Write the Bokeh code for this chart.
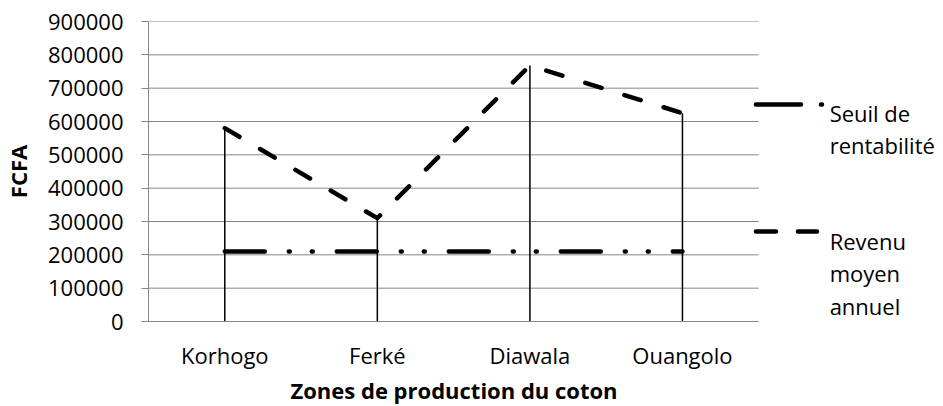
from bokeh.plotting import figure
from bokeh.models import Range1d, FixedTicker, BasicTickFormatter, Title
from bokeh.core.properties import value
from bokeh.embed import file_html
from bokeh.resources import INLINE

# ---- data ----
zones = ["Korhogo", "Ferké", "Diawala", "Ouangolo"]
revenu = [580000, 310000, 768000, 625000]        # Revenu moyen annuel
seuil = [210000, 210000, 210000, 210000]         # Seuil de rentabilité
y_ticks = [0, 100000, 200000, 300000, 400000, 500000, 600000, 700000, 800000, 900000]
legend_seuil = ["Seuil de", "rentabilité"]
legend_revenu = ["Revenu", "moyen", "annuel"]

FONT = "Open Sans"
GRAY = "#868686"

# ---- layout (pixels) ----
W, H = 943, 406
LEFT, TOP, BOTTOM = 147, 21, 85
FRAME_W = W - LEFT
FRAME_H = H - TOP - BOTTOM
CAT_W = 152.75                      # pixel width of one category band
n = len(zones)
xs = [i + 0.5 for i in range(n)]    # category centres on the numeric axis

p = figure(width=W, height=H,
           x_range=Range1d(0, FRAME_W / CAT_W),
           y_range=Range1d(y_ticks[0], y_ticks[-1]),
           output_backend="svg", toolbar_location=None,
           min_border_left=LEFT, min_border_right=0,
           min_border_top=TOP, min_border_bottom=BOTTOM)
p.outline_line_color = None
p.xgrid.visible = False
p.ygrid.visible = False

# helpers converting pixel layout positions of the legend to data units
def px2x(px):
    return (px - LEFT) / CAT_W

def py2y(py):
    return (TOP + FRAME_H - py) * (y_ticks[-1] - y_ticks[0]) / FRAME_H

# horizontal grid lines limited to the plot band
p.segment(x0=0, x1=n, y0=y_ticks[1:], y1=y_ticks[1:], line_color=GRAY, line_width=1)

ya = p.yaxis[0]
ya.ticker = FixedTicker(ticks=y_ticks)
ya.formatter = BasicTickFormatter(use_scientific=False)
ya.axis_line_color = GRAY
ya.major_tick_line_color = GRAY
ya.major_tick_out = 7
ya.major_tick_in = 0
ya.minor_tick_line_color = None
ya.major_label_text_font = FONT
ya.major_label_text_font_size = "22px"
ya.major_label_text_color = "black"
ya.major_label_standoff = 18
ya.axis_label = "FCFA"
ya.axis_label_text_font = FONT
ya.axis_label_text_font_style = "bold"
ya.axis_label_text_font_size = "22px"
ya.axis_label_text_color = "black"
ya.axis_label_text_line_height = 1.0
ya.axis_label_standoff = 12

xa = p.xaxis[0]
xa.ticker = FixedTicker(ticks=xs)
xa.major_label_overrides = {x: z for x, z in zip(xs, zones)}
xa.bounds = (0, n)
xa.axis_line_color = GRAY
xa.major_tick_out = 0
xa.major_tick_in = 0
xa.minor_tick_line_color = None
xa.major_label_text_font = FONT
xa.major_label_text_font_size = "22px"
xa.major_label_text_color = "black"
xa.major_label_text_line_height = 1.0
xa.major_label_standoff = 18

xtitle = Title(text="Zones de production du coton", align="left", offset=142,
               text_font=FONT, text_font_size="22px", text_font_style="bold",
               text_color="black", text_line_height=1.0, standoff=1)
p.add_layout(xtitle, "below")

# drop lines
p.segment(x0=xs, y0=0, x1=xs, y1=revenu, line_color="black", line_width=1.5)
# seuil de rentabilité (long dash dot dot)
p.line(xs, seuil, line_color="black", line_width=4.5,
       line_dash="40 24 1 22 1 24", line_cap="round", line_join="round")
# revenu moyen annuel (dashed)
p.line(xs, revenu, line_color="black", line_width=4.5,
       line_dash="17 24", line_cap="round", line_join="round")

# ---- legend ----
p.line([px2x(755.25), px2x(830)], [py2y(104)] * 2, line_color="black", line_width=4.5,
       line_dash="45 20 1 200", line_cap="round")
p.line([px2x(755.25), px2x(830)], [py2y(231)] * 2, line_color="black", line_width=4.5,
       line_dash="20 22 19 200", line_cap="round")

p.text(x=[px2x(829)] * len(legend_seuil),
       y=[py2y(112 + 32 * i) for i in range(len(legend_seuil))],
       text=legend_seuil, text_font=value(FONT), text_font_size="22px",
       text_baseline="alphabetic", text_color="black")
p.text(x=[px2x(829)] * len(legend_revenu),
       y=[py2y(240 + 32.5 * i) for i in range(len(legend_revenu))],
       text=legend_revenu, text_font=value(FONT), text_font_size="22px",
       text_baseline="alphabetic", text_color="black")

open("out.html", "w").write(file_html(p, INLINE))
